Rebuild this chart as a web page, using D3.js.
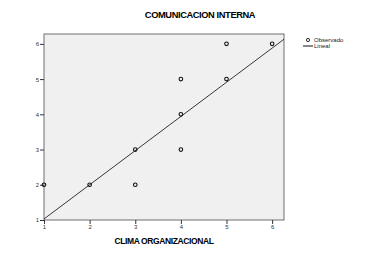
<!DOCTYPE html>
<meta charset="utf-8">
<style>
body {
  margin: 0;
  background: #fff;
  font-family: "Liberation Sans", Arial, sans-serif;
}
.tick text {
  font-size: 6px;
  fill: #333;
}
.domain {
  display: none;
}
.tick line {
  stroke: #333;
}
</style>
<body>
<script src="https://cdn.jsdelivr.net/npm/d3@7"></script>
<script>

var width = 375,
    height = 257;

// observed points (CLIMA ORGANIZACIONAL, COMUNICACION INTERNA)
var clima = [1, 2, 3, 3, 4, 4, 4, 5, 5, 6];
var comunicacion = [2, 2, 2, 3, 3, 4, 5, 5, 6, 6];

// linear fit
var fitIntercept = 0.06,
    fitSlope = 0.97;

var xTicks = [1, 2, 3, 4, 5, 6];
var yTicks = [1, 2, 3, 4, 5, 6];

var margin = {top: 34, right: 91, bottom: 37, left: 44};

var svg = d3.select("body").append("svg")
    .attr("width", width)
    .attr("height", height);

var x = d3.scaleLinear()
    .domain([1, 6.26])
    .range([margin.left, width - margin.right]);

var y = d3.scaleLinear()
    .domain([1, 6.28])
    .range([height - margin.bottom, margin.top]);

// plot area
svg.append("rect")
    .attr("x", x(1))
    .attr("y", y(6.28))
    .attr("width", x(6.26) - x(1))
    .attr("height", y(1) - y(6.28))
    .attr("fill", "#f0f0f0")
    .attr("stroke", "#6e6e6e")
    .attr("stroke-width", 1);

svg.append("g")
    .attr("transform", "translate(0," + y(1) + ")")
    .call(d3.axisBottom(x).tickValues(xTicks).tickSize(4).tickPadding(1).tickFormat(d3.format("d")));

svg.append("g")
    .attr("transform", "translate(" + x(1) + ",0)")
    .call(d3.axisLeft(y).tickValues(yTicks).tickSize(4).tickPadding(1).tickFormat(d3.format("d")));

// fit line
var x0 = 1, x1 = 6.26;
svg.append("line")
    .attr("x1", x(x0))
    .attr("y1", y(fitIntercept + fitSlope * x0))
    .attr("x2", x(x1))
    .attr("y2", y(fitIntercept + fitSlope * x1))
    .attr("stroke", "#222")
    .attr("stroke-width", 0.9);

// observed points
svg.selectAll("circle.obs")
    .data(clima)
  .enter().append("circle")
    .attr("class", "obs")
    .attr("cx", function(d) { return x(d); })
    .attr("cy", function(d, i) { return y(comunicacion[i]); })
    .attr("r", 1.8)
    .attr("fill", "none")
    .attr("stroke", "#111")
    .attr("stroke-width", 1.1);

// titles
svg.append("text")
    .attr("x", 200)
    .attr("y", 18)
    .attr("text-anchor", "middle")
    .attr("font-size", 9.3)
    .attr("font-weight", "bold")
    .attr("letter-spacing", -0.4)
    .text("COMUNICACION INTERNA");

svg.append("text")
    .attr("x", (x(1) + x(6.26)) / 2)
    .attr("y", 244)
    .attr("text-anchor", "middle")
    .attr("font-size", 8.5)
    .attr("font-weight", "bold")
    .attr("letter-spacing", -0.4)
    .text("CLIMA ORGANIZACIONAL");

// legend
var legend = svg.append("g").attr("transform", "translate(303,40)");
legend.append("circle")
    .attr("cx", 5)
    .attr("cy", 0)
    .attr("r", 1.6)
    .attr("fill", "none")
    .attr("stroke", "#111")
    .attr("stroke-width", 0.9);
legend.append("text")
    .attr("x", 11)
    .attr("y", 2)
    .attr("font-size", 6)
    .attr("fill", "#222")
    .text("Observado");
legend.append("line")
    .attr("x1", 0)
    .attr("x2", 10)
    .attr("y1", 6)
    .attr("y2", 6)
    .attr("stroke", "#111")
    .attr("stroke-width", 1);
legend.append("text")
    .attr("x", 11)
    .attr("y", 8)
    .attr("font-size", 6)
    .attr("fill", "#222")
    .text("Lineal");

</script>
